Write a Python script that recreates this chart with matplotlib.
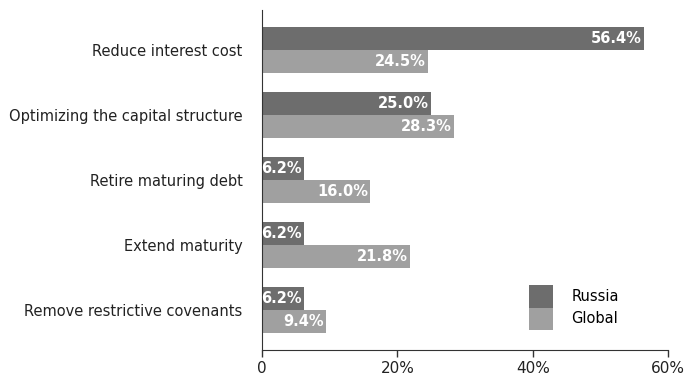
import matplotlib.pyplot as plt
import numpy as np

categories = ['Reduce interest cost', 'Optimizing the capital structure', 'Retire maturing debt',
              'Extend maturity', 'Remove restrictive covenants']
russia = [56.4, 25.0, 6.2, 6.2, 6.2]
global_vals = [24.5, 28.3, 16.0, 21.8, 9.4]
series_labels = ['Russia', 'Global']
colors = ['#6d6d6d', '#a0a0a0']

plt.rcParams['font.family'] = ['DejaVu Sans']

fig = plt.figure(figsize=(6.88, 3.78), dpi=100)
ax = fig.add_axes([0.3808, 0.074, 0.5902, 0.8995])

y = np.arange(len(categories))
h = 0.354
bars_r = ax.barh(y - h / 2, russia, h, color=colors[0], label=series_labels[0])
bars_g = ax.barh(y + h / 2, global_vals, h, color=colors[1], label=series_labels[1])

for bars, vals in [(bars_r, russia), (bars_g, global_vals)]:
	for b, v in zip(bars, vals):
		ax.annotate('{:.1f}%'.format(v), xy=(v, b.get_y() + b.get_height() / 2),
					xytext=(-1.5, 0), textcoords='offset points', ha='right', va='center',
					color='white', fontweight='bold', fontsize=10.5)

ax.set_yticks(y)
ax.set_yticklabels(categories, fontsize=10.5, color='#222222')
ax.tick_params(axis='y', length=0, pad=14)
ax.set_ylim(len(categories) - 1 + 0.615, -0.615)
ax.set_xlim(0, 60)
ax.set_xticks([0, 20, 40, 60])
ax.set_xticklabels(['0', '20%', '40%', '60%'], fontsize=11, color='#222222')
ax.tick_params(axis='x', length=5, width=1, color='#333333', pad=3)
ax.spines['right'].set_visible(False)
ax.spines['top'].set_visible(False)
ax.spines['left'].set_color('#333333')
ax.spines['bottom'].set_color('#333333')

ax.legend(loc='upper left', bbox_to_anchor=(0.769, 0.246), bbox_transform=fig.transFigure,
		  frameon=False, fontsize=10.5, handlelength=1.65, handleheight=2.0, labelspacing=0,
		  handletextpad=1.25, borderpad=0, borderaxespad=0)

fig.savefig('out.png', dpi=100)
plt.close(fig)
